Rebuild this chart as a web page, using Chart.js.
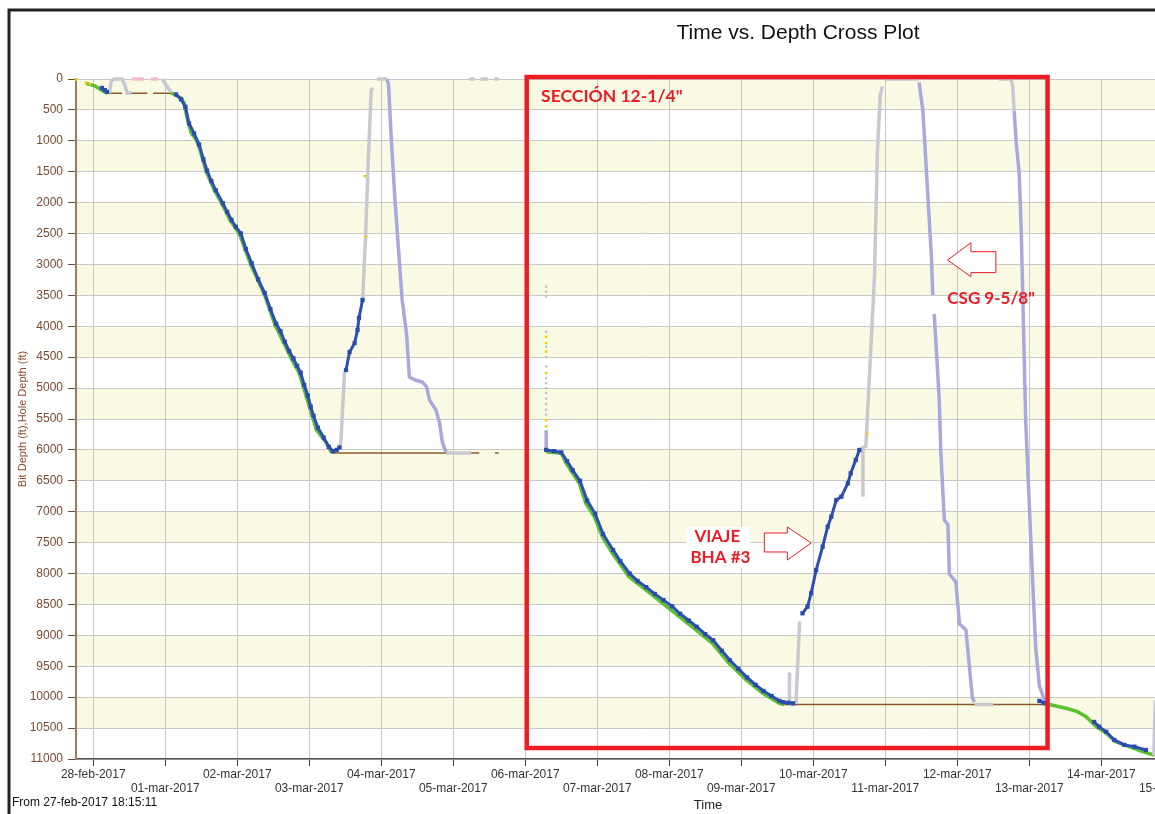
<!DOCTYPE html>
<html>
<head>
<meta charset="utf-8">
<script src="https://cdn.jsdelivr.net/npm/chart.js@4"></script>
<style>
html, body { margin: 0; padding: 0; background: #fff; overflow: hidden; }
#wrap { position: relative; width: 1240px; height: 814px; }
</style>
</head>
<body>
<div id="wrap"><canvas id="myChart" width="1240" height="814"></canvas></div>
<script>
"use strict"

// x is counted in days from 28-feb-2017 00:00, y is depth in ft
let tickLabels = ['28-feb-2017', '01-mar-2017', '02-mar-2017', '03-mar-2017', '04-mar-2017',
    '05-mar-2017', '06-mar-2017', '07-mar-2017', '08-mar-2017', '09-mar-2017', '10-mar-2017',
    '11-mar-2017', '12-mar-2017', '13-mar-2017', '14-mar-2017', '15-mar-2017'];
let depthMax = 11000;
let depthStep = 500;

// hole depth while drilling (green)
let holeDrilling = [
    [[-0.10, 70], [0.02, 110], [0.10, 170], [0.19, 230]],
    [[1.08, 230], [1.10, 235], [1.22, 307], [1.26, 388], [1.31, 663], [1.36, 874], [1.43, 987], [1.47, 1100],
     [1.57, 1504], [1.68, 1796], [1.78, 2006], [1.90, 2281], [2.03, 2507], [2.19, 3009], [2.38, 3494],
     [2.53, 3996], [2.58, 4109], [2.76, 4545], [2.86, 4756], [2.96, 5144], [3.10, 5678], [3.24, 5888], [3.31, 6050]],
    [[6.29, 6030], [6.50, 6055], [6.57, 6217], [6.66, 6378], [6.75, 6540], [6.84, 6864], [6.96, 7080],
     [7.07, 7404], [7.21, 7672], [7.44, 8051], [7.68, 8266], [7.91, 8481], [8.14, 8697], [8.37, 8913],
     [8.60, 9128], [8.83, 9452], [9.07, 9721], [9.30, 9937], [9.53, 10099], [9.60, 10120]],
    [[13.21, 10120], [13.28, 10120], [13.51, 10180], [13.67, 10234], [13.79, 10315], [13.93, 10477],
     [14.07, 10584], [14.20, 10719], [14.39, 10800], [14.57, 10881], [14.74, 10935]]
];

// hole depth while not drilling (brown)
let holeStatic = [
    [[0.19, 230], [0.40, 230]],
    [[0.48, 230], [0.75, 230]],
    [[0.83, 230], [1.08, 230]],
    [[3.31, 6050], [5.36, 6050]],
    [[5.58, 6050], [5.63, 6050]],
    [[9.60, 10120], [13.21, 10120]]
];

// bit depth, blue squares
let bitDrilling = [
    [[0.12, 145], [0.16, 180], [0.19, 210]],
    [[1.15, 250], [1.22, 330], [1.28, 450], [1.33, 720], [1.40, 880], [1.47, 1060], [1.53, 1300], [1.58, 1480],
     [1.64, 1650], [1.70, 1800], [1.80, 2010], [1.86, 2150], [1.92, 2280], [1.98, 2390], [2.05, 2500],
     [2.12, 2750], [2.20, 2980], [2.29, 3240], [2.38, 3460], [2.46, 3720], [2.54, 3960], [2.60, 4080],
     [2.66, 4250], [2.72, 4400], [2.78, 4520], [2.83, 4640], [2.88, 4750], [2.93, 4950], [2.98, 5120],
     [3.02, 5300], [3.06, 5450], [3.12, 5640], [3.20, 5800], [3.27, 5950], [3.33, 6020], [3.38, 6000], [3.42, 5960]],
    [[3.51, 4707], [3.56, 4416], [3.63, 4271], [3.67, 4060], [3.69, 3866], [3.74, 3575]],
    [[6.29, 6000], [6.40, 6020], [6.50, 6040], [6.58, 6180], [6.66, 6330], [6.76, 6500], [6.86, 6820],
     [6.97, 7030], [7.08, 7360], [7.22, 7620], [7.32, 7800], [7.45, 8000], [7.56, 8120], [7.68, 8220],
     [7.80, 8330], [7.92, 8430], [8.04, 8530], [8.15, 8650], [8.27, 8760], [8.38, 8860], [8.50, 8980],
     [8.61, 9080], [8.73, 9250], [8.84, 9400], [8.96, 9540], [9.08, 9680], [9.20, 9800], [9.31, 9900],
     [9.42, 9980], [9.53, 10060], [9.58, 10080], [9.65, 10090], [9.72, 10100]],
    [[9.85, 8643], [9.92, 8536], [9.97, 8320], [10.04, 7943], [10.13, 7566], [10.20, 7242], [10.25, 7080],
     [10.32, 6810], [10.39, 6756], [10.48, 6540], [10.52, 6378], [10.59, 6163], [10.64, 6001]],
    [[13.14, 10060], [13.20, 10090], [13.23, 10100]],
    [[13.90, 10400], [13.97, 10477], [14.07, 10560], [14.18, 10692], [14.32, 10773], [14.46, 10800], [14.62, 10854]]
];

// bit depth pulling out / parked (light gray)
let bitPullOut = [
    [[0.22, 230], [0.25, 30], [0.29, 0], [0.40, 0], [0.44, 100], [0.47, 226], [0.53, 226]],
    [[0.96, 0], [1.01, 97], [1.08, 210]],
    [[3.42, 6001], [3.44, 5840], [3.49, 4740]],
    [[3.74, 3575], [3.78, 2604], [3.82, 1310], [3.86, 178], [3.89, 146]],
    [[3.94, 0], [4.08, 0]],
    [[4.90, 6050], [5.25, 6050]],
    [[5.22, 0], [5.30, 0]],
    [[5.38, 0], [5.48, 0]],
    [[5.57, 0], [5.63, 0]],
    [[9.67, 10120], [9.67, 9600]],
    [[9.76, 10100], [9.81, 8779]],
    [[10.64, 6001], [10.73, 5937], [10.85, 3196], [10.89, 1191], [10.93, 256], [10.96, 121]],
    [[10.69, 6001], [10.69, 6756]],
    [[10.99, 0], [11.47, 0]],
    [[12.24, 10120], [12.50, 10120]],
    [[12.58, 0], [12.75, 0], [12.77, 121], [12.79, 518]],
    [[14.73, 10935], [14.75, 10050]]
];

// at surface, pink marks
let bitSurface = [
    [[0.54, 0], [0.70, 0]],
    [[0.80, 0], [0.90, 0]]
];

// bit depth running in (lavender)
let bitRunIn = [
    [[4.08, 0], [4.10, 81], [4.14, 987], [4.19, 1957], [4.25, 2928], [4.29, 3575], [4.35, 4109], [4.39, 4820],
     [4.47, 4869], [4.57, 4901], [4.63, 4982], [4.67, 5193], [4.76, 5354], [4.81, 5565], [4.85, 5888], [4.90, 6034]],
    [[6.29, 5680], [6.29, 6030]],
    [[11.47, 55], [11.50, 324], [11.52, 485], [11.54, 857], [11.59, 1860], [11.64, 2863], [11.66, 3494]],
    [[11.68, 3801], [11.70, 4199], [11.75, 5202], [11.77, 6001], [11.82, 7134], [11.87, 7207], [11.89, 8007],
     [11.98, 8137], [12.03, 8811], [12.12, 8913], [12.21, 10013], [12.24, 10078]],
    [[12.79, 518], [12.82, 1051], [12.86, 1521], [12.89, 2523], [12.91, 3526], [12.93, 4529], [12.95, 5532],
     [13.00, 6875], [13.05, 8209], [13.09, 9212], [13.14, 9814], [13.21, 10045]]
];

// loose gray readings
let bitDots = [[6.29, 3360], [6.29, 3440], [6.29, 3520], [6.29, 4090], [6.29, 4330], [6.29, 4500],
    [6.29, 4650], [6.29, 4840], [6.29, 4920], [6.29, 5000], [6.29, 5080], [6.29, 5170], [6.29, 5260],
    [6.29, 5350], [6.29, 5430]];

// yellow readings
let flagDots = [[-0.24, 10], [-0.10, 60], [-0.05, 80], [3.77, 1570], [3.79, 2555], [10.75, 5740],
    [6.29, 4170], [6.29, 4270], [6.29, 4410], [6.29, 4760], [6.29, 5520], [6.29, 5620]];

const redColor = '#ec1c24';
const bandColor = '#fafae4';

function toPoints(segments) {
    let pts = [];
    segments.forEach((seg, i) => {
        if (i > 0) pts.push({ x: seg[0][0], y: null });
        seg.forEach(p => pts.push({ x: p[0], y: p[1] }));
    });
    return pts;
}

function lineSet(label, segments, color, width, order) {
    return {
        label: label,
        data: toPoints(segments),
        showLine: true,
        borderColor: color,
        borderWidth: width,
        pointRadius: 0,
        spanGaps: false,
        clip: 8,
        order: order
    };
}

function dotSet(label, points, color, radius, order) {
    return {
        label: label,
        data: points.map(p => ({ x: p[0], y: p[1] })),
        showLine: false,
        pointRadius: radius,
        pointStyle: 'rect',
        backgroundColor: color,
        borderColor: color,
        borderWidth: 0,
        clip: 8,
        order: order
    };
}

let blueSet = lineSet('Bit Depth', bitDrilling, '#2d4fb5', 3, 2);
blueSet.pointRadius = 3;
blueSet.pointStyle = 'rect';
blueSet.pointBackgroundColor = '#2a4aad';
blueSet.pointBorderWidth = 0;

const datasets = [
    lineSet('Hole Depth', holeStatic, '#8b5a2b', 1.5, 8),
    lineSet('Hole Depth drilling', holeDrilling, '#5cbf2f', 3.5, 7),
    lineSet('Bit Depth out', bitPullOut, '#c8c8d0', 3.5, 6),
    lineSet('Bit Depth surface', bitSurface, '#f2bcc6', 3.5, 6),
    lineSet('Bit Depth in', bitRunIn, '#a8a8dc', 3.5, 5),
    dotSet('Bit Depth readings', bitDots, '#c0c0c8', 1.6, 4),
    blueSet,
    dotSet('Flags', flagDots, '#f2cf00', 1.8, 1)
];

function px(chart, d, v) {
    return [chart.scales.x.getPixelForValue(d), chart.scales.y.getPixelForValue(v)];
}

function drawArrow(chart, pts) {
    const ctx = chart.ctx;
    ctx.beginPath();
    pts.forEach((p, i) => {
        const [a, b] = px(chart, p[0], p[1]);
        if (i === 0) ctx.moveTo(a, b); else ctx.lineTo(a, b);
    });
    ctx.closePath();
    ctx.fillStyle = '#ffffff';
    ctx.fill();
    ctx.strokeStyle = redColor;
    ctx.lineWidth = 1;
    ctx.stroke();
}

const decorations = {
    id: 'decorations',
    beforeDraw(chart) {
        const { ctx, chartArea: a } = chart;
        const y = chart.scales.y;
        ctx.save();
        ctx.fillStyle = '#ffffff';
        ctx.fillRect(0, 0, chart.width, chart.height);
        ctx.fillStyle = bandColor;
        for (let v = 0; v < depthMax; v += 2 * depthStep) {
            const top = y.getPixelForValue(v);
            const bot = y.getPixelForValue(v + depthStep);
            ctx.fillRect(a.left, top, a.right - a.left, bot - top);
        }
        ctx.restore();
    },
    afterDraw(chart) {
        const ctx = chart.ctx;
        ctx.save();

        // section box
        const [x0, y0] = px(chart, 6.02, -32);
        const [x1, y1] = px(chart, 13.254, 10822);
        ctx.strokeStyle = redColor;
        ctx.lineWidth = 4.5;
        ctx.strokeRect(x0, y0, x1 - x0, y1 - y0);

        // arrows
        drawArrow(chart, [[9.32, 7344], [9.64, 7344], [9.64, 7247], [9.97, 7506], [9.64, 7781], [9.64, 7651], [9.32, 7651]]);
        drawArrow(chart, [[11.865, 2928], [12.19, 2648], [12.19, 2794], [12.536, 2794], [12.536, 3132], [12.19, 3132], [12.19, 3198]]);

        ctx.fillStyle = redColor;
        ctx.font = 'bold 17.5px Lato, "Open Sans", sans-serif';
        ctx.textBaseline = 'middle';
        ctx.textAlign = 'left';
        let p = px(chart, 6.22, 275);
        ctx.fillText('SECCIÓN 12-1/4"', p[0], p[1]);

        ctx.font = 'bold 17px Lato, "Open Sans", sans-serif';
        ctx.textAlign = 'center';
        p = px(chart, 8.68, 7570);
        ctx.fillStyle = '#ffffff';
        ctx.fillRect(p[0] - 32, p[1] - 20, 64, 41);
        ctx.fillStyle = redColor;
        p = px(chart, 8.667, 7393);
        ctx.fillText('VIAJE', p[0], p[1]);
        p = px(chart, 8.71, 7748);
        ctx.fillText('BHA #3', p[0], p[1]);
        p = px(chart, 12.47, 3559);
        ctx.fillText('CSG 9-5/8"', p[0], p[1]);

        // title and notes
        ctx.fillStyle = '#111';
        ctx.font = '21px "Liberation Sans", Arial, sans-serif';
        ctx.fillText('Time vs. Depth Cross Plot', 798, 33);
        ctx.font = '13px "Liberation Sans", Arial, sans-serif';
        ctx.fillStyle = '#222';
        ctx.fillText('Time', 708, 805);
        ctx.textAlign = 'left';
        ctx.font = '12px "Liberation Sans", Arial, sans-serif';
        ctx.fillStyle = '#111';
        ctx.fillText('From 27-feb-2017 18:15:11', 12, 803);

        // frame
        ctx.strokeStyle = '#222';
        ctx.lineWidth = 3;
        ctx.beginPath();
        ctx.moveTo(9, 814);
        ctx.lineTo(9, 10);
        ctx.lineTo(1240, 10);
        ctx.stroke();
        ctx.restore();
    }
};

Chart.defaults.font.family = '"Liberation Sans", Arial, sans-serif';

const config = {
    type: 'scatter',
    data: { datasets: datasets },
    options: {
        responsive: false,
        animation: false,
        devicePixelRatio: 1,
        layout: { padding: { left: 12, top: 79, right: 30, bottom: 0 } },
        plugins: {
            legend: { display: false },
            tooltip: { enabled: false },
            title: { display: false }
        },
        scales: {
            x: {
                type: 'linear',
                min: -0.24,
                max: 15.51,
                afterFit(s) { s.height = 55; },
                afterBuildTicks(s) { s.ticks = tickLabels.map((t, i) => ({ value: i })); },
                ticks: {
                    autoSkip: false,
                    maxRotation: 0,
                    minRotation: 0,
                    padding: 1,
                    color: '#333',
                    font: { size: 12 },
                    callback: function (value) {
                        const t = tickLabels[value];
                        return value % 2 ? ['', t] : t;
                    }
                },
                grid: { color: '#c8c8c8', tickColor: '#444', tickLength: 7 },
                border: { color: '#555', width: 1.5 }
            },
            y: {
                reverse: true,
                min: 0,
                max: depthMax,
                afterFit(s) { s.width = 64; },
                ticks: {
                    stepSize: depthStep,
                    color: '#7a4a30',
                    padding: 5,
                    font: { size: 12 },
                    callback: v => String(v)
                },
                grid: { color: '#c8c8c8', tickColor: '#6b4a35', tickLength: 8 },
                border: { color: '#a07a5a', width: 2 },
                title: {
                    display: true,
                    text: 'Bit Depth (ft),Hole Depth (ft)',
                    color: '#8b4a2b',
                    font: { size: 11 },
                    padding: { top: 4, bottom: 0 }
                }
            }
        }
    },
    plugins: [decorations]
};

let canvasChart = document.getElementById('myChart');
const myChart = new Chart(canvasChart, config);
</script>
</body>
</html>
